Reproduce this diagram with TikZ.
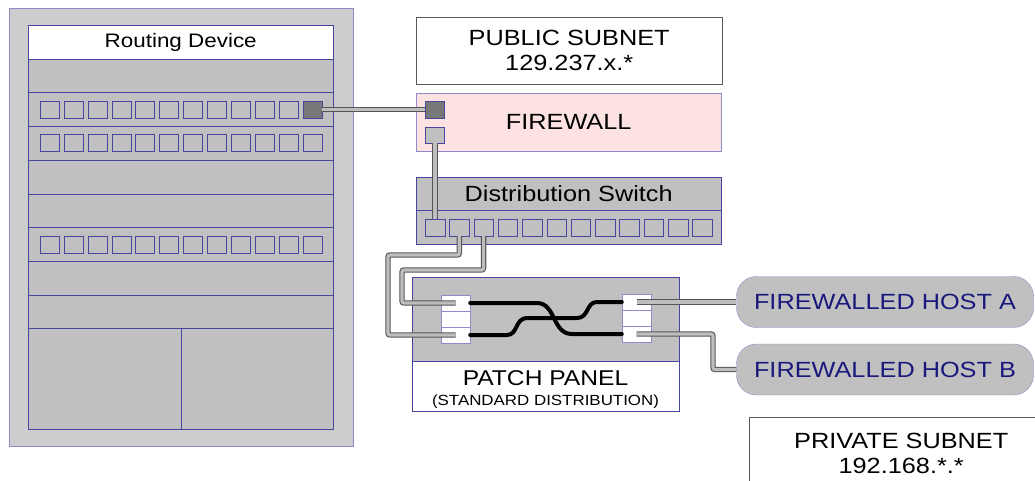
\documentclass[tikz,border=0pt]{standalone}
\usepackage{fontspec}
\setmainfont{Liberation Sans}[FakeStretch=1.15]
\usepackage{tikz}

\definecolor{rackline}{RGB}{70,70,160}
\definecolor{rimline}{RGB}{140,140,200}
\definecolor{rackgray}{RGB}{192,192,192}
\definecolor{rimgray}{RGB}{205,205,205}
\definecolor{fwpink}{RGB}{253,226,226}
\definecolor{hostblue}{RGB}{25,25,125}
\definecolor{cableedge}{RGB}{85,85,85}
\definecolor{cablecore}{RGB}{190,190,190}
\definecolor{portdark}{RGB}{120,120,120}

\begin{document}
\begin{tikzpicture}[x=1pt, y=-1pt,
    every node/.style={font=\fontsize{22}{25}\selectfont},
    panel/.style={rectangle, draw=rackline, fill=rackgray, inner sep=0pt, anchor=north west},
    port/.style={rectangle, draw=rackline, fill=rackgray, inner sep=0pt, minimum width=19pt, minimum height=17pt},
    jack/.style={rectangle, draw=rimline, fill=white, inner sep=0pt, minimum width=29pt, minimum height=16pt},
    cable/.style={draw=cableedge, line width=1.1pt, double=cablecore, double distance=3.2pt, rounded corners=2pt},
    cord/.style={line width=4pt, line cap=round},
    host/.style={rectangle, rounded corners=20pt, draw=rimline, fill=rackgray, text=hostblue, minimum width=297pt, minimum height=51pt}]
    \useasboundingbox (0,0) rectangle (1035,480);
    \clip (0,0) rectangle (1035,480);

    % Rack with routing device
    \node[panel, draw=rimline, fill=rimgray, minimum width=344pt, minimum height=438pt] (RACK) at (9,8) {};
    \node[panel, fill=white, minimum width=305pt, minimum height=33.7pt, font=\fontsize{19.5}{23}\selectfont] (ROW1) at (28,25) {Routing Device};
    \foreach \r in {2,...,9} {
        \node[panel, minimum width=305pt, minimum height=33.7pt] (ROW\r) at (28,{25+(\r-1)*33.7}) {};
    }
    \node[panel, minimum width=153pt, minimum height=101pt] (BAYL) at (28,328.3) {};
    \node[panel, minimum width=152pt, minimum height=101pt] (BAYR) at (181,328.3) {};

    % Router ports
    \foreach \i in {1,2,...,12} {
        \node[port] (RB\i) at ({49.5+(\i-1)*23.9},143.1) {};
        \node[port] (RC\i) at ({49.5+(\i-1)*23.9},244.2) {};
    }
    \foreach \i in {1,2,...,11} {
        \node[port] (RA\i) at ({49.5+(\i-1)*23.9},109.5) {};
    }
    \node[port, fill=portdark] (RA12) at (312.4,109.5) {};

    % Subnets and firewall
    \node[rectangle, draw=black!65, fill=white, minimum width=306pt, minimum height=67pt, anchor=north west, align=center] (PUB) at (416,17) {PUBLIC SUBNET\\129.237.x.*};
    \node[rectangle, draw=rimline, fill=fwpink, minimum width=305pt, minimum height=58pt, anchor=north west] (FW) at (416,93) {FIREWALL};
    \node[port, fill=portdark] (FW1) at (435,109.5) {};
    \node[port, minimum height=16pt] (FW2) at (435,135) {};

    % Distribution switch
    \node[panel, minimum width=305pt, minimum height=33pt] (SWT) at (416,177) {Distribution Switch};
    \node[panel, minimum width=305pt, minimum height=34pt] (SWB) at (416,210) {};
    \foreach \i in {1,2,...,12} {
        \node[port, minimum width=19.5pt] (SW\i) at ({435+(\i-1)*24.3},227.5) {};
    }

    % Patch panel
    \node[panel, minimum width=267pt, minimum height=84pt] (PPG) at (412,277) {};
    \node[panel, fill=white, minimum width=267pt, minimum height=50pt] (PPW) at (412,361) {};
    \node[anchor=base, font=\fontsize{21.4}{25}\selectfont] (PPTITLE) at (545.5,385) {PATCH PANEL};
    \node[anchor=base, font=\fontsize{14.7}{17}\selectfont] (PPSUB) at (545.5,405.5) {(STANDARD DISTRIBUTION)};
    \foreach \k in {1,2,3} {
        \node[jack] (LJ\k) at (455.5,{303+(\k-1)*16}) {};
        \node[jack] (RJ\k) at (636.5,{302+(\k-1)*16}) {};
    }

    % Hosts
    \node[host] (HOSTA) at (885,302) {FIREWALLED HOST A};
    \node[host] (HOSTB) at (885,369.5) {FIREWALLED HOST B};
    \node[rectangle, draw=black!65, fill=white, minimum width=304pt, minimum height=72pt, anchor=north west, align=center] (PRIV) at (749,417) {PRIVATE SUBNET\\192.168.*.*};

    % Connections
    \draw[cable] (RA12.east) -- (FW1.west);
    \draw[cable] (FW2.south) -- (SW1.north);
    \draw[cable] (SW2.south) |- (388,255) |- (LJ3.center);
    \draw[cable] (SW3.south) |- (402,270) |- (LJ1.center);
    \draw[cable] (RJ1.center) -- (HOSTA.west);
    \draw[cable] (RJ3.center) -- (713,334) |- (HOSTB.west);

    % Patch cords
    \draw[cord] (LJ1.east) -- (537,303) .. controls (556,303) and (552,334) .. (572,334) -- (RJ3.west);
    \draw[cord] (LJ3.east) -- (507,335) .. controls (518,335) and (515,318) .. (527,318) -- (577,318) .. controls (589,318) and (586,302) .. (597,302) -- (RJ1.west);
\end{tikzpicture}
\end{document}
